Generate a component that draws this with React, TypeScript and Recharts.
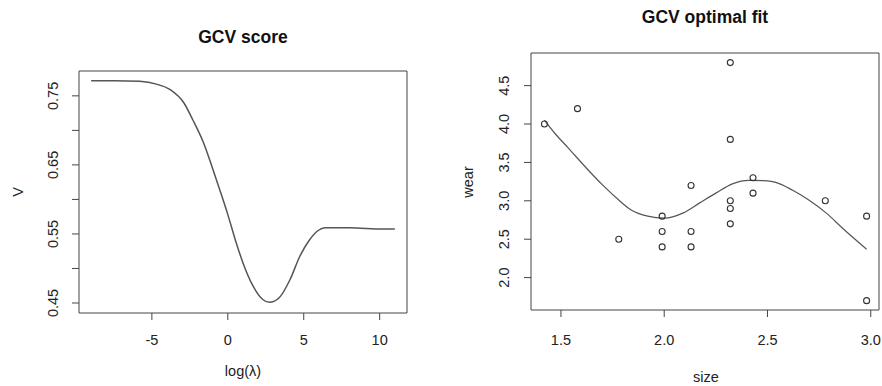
import React from 'react';
import { LineChart, ComposedChart, Line, Scatter, XAxis, YAxis, ReferenceArea } from 'recharts';

const FONT = '"Liberation Sans", Arial, Helvetica, sans-serif';

// GCV score against log(lambda)
const logLambda = [-9, -7.5, -5.8, -4.7, -3.8, -2.9, -2.3, -1.6, -1.05, -0.5, 0, 0.5, 1.0, 1.65, 2.3, 2.75, 3.4, 4.1, 4.75, 5.4, 5.95, 6.4, 8.0, 10.2, 11];
const gcvScore = [0.772, 0.772, 0.771, 0.767, 0.759, 0.740, 0.715, 0.682, 0.648, 0.612, 0.578, 0.541, 0.508, 0.475, 0.455, 0.451, 0.458, 0.484, 0.518, 0.542, 0.555, 0.559, 0.559, 0.557, 0.557];
const gcvXTicks = [-5, 0, 5, 10];
const gcvYTicks = [0.45, 0.5, 0.55, 0.6, 0.65, 0.7, 0.75];
const gcvYLabels = ['0.45', '', '0.55', '', '0.65', '', '0.75'];

// observed wear against size
const sizeObs = [1.42, 1.58, 1.78, 1.99, 1.99, 1.99, 2.13, 2.13, 2.13, 2.32, 2.32, 2.32, 2.32, 2.32, 2.43, 2.43, 2.78, 2.98, 2.98];
const wearObs = [4.0, 4.2, 2.5, 2.8, 2.6, 2.4, 3.2, 2.6, 2.4, 4.8, 3.8, 3.0, 2.9, 2.7, 3.3, 3.1, 3.0, 2.8, 1.7];

// GCV optimal smoothing fit
const fitSize = [1.42, 1.47, 1.535, 1.615, 1.70, 1.78, 1.84, 1.92, 2.00, 2.09, 2.17, 2.25, 2.33, 2.41, 2.50, 2.54, 2.62, 2.70, 2.785, 2.865, 2.98];
const fitWear = [4.05, 3.88, 3.69, 3.45, 3.21, 3.01, 2.88, 2.80, 2.775, 2.84, 2.97, 3.10, 3.22, 3.265, 3.26, 3.24, 3.14, 3.01, 2.84, 2.64, 2.37];
const fitXTicks = [1.5, 2.0, 2.5, 3.0];
const fitYTicks = [2.0, 2.5, 3.0, 3.5, 4.0, 4.5];

const gcvData = logLambda.map((x, i) => ({ x, v: gcvScore[i] }));
const obsData = sizeObs.map((s, i) => ({ size: s, wear: wearObs[i] }));
const fitData = fitSize.map((s, i) => ({ size: s, wear: fitWear[i] }));

const GCV_X: [number, number] = [-9.8, 11.8];
const GCV_Y: [number, number] = [0.4355, 0.786];
const FIT_X: [number, number] = [1.355, 3.04];
const FIT_Y: [number, number] = [1.578, 4.925];

const textStyle = { fontFamily: FONT, fontSize: 14.5, fill: '#222' };

const xTick = (fmt: (v: number) => string) => (props: any) => (
  <text x={props.x} y={345} textAnchor="middle" {...textStyle}>
    {fmt(props.payload.value)}
  </text>
);

// R draws y tick labels turned on their side
const yTick = (fmt: (v: number) => string, baseX: number) => (props: any) => {
  const { y, payload } = props;
  const label = fmt(payload.value);
  if (!label) return <g />;
  return (
    <text x={baseX} y={y} transform={`rotate(-90, ${baseX}, ${y})`} textAnchor="middle" {...textStyle}>
      {label}
    </text>
  );
};

function GcvScore() {
  return (
    <LineChart width={441} height={386} data={gcvData} margin={{ top: 71, right: 34, left: 19, bottom: 33 }}>
      <XAxis
        dataKey="x"
        type="number"
        domain={GCV_X}
        allowDataOverflow
        ticks={gcvXTicks}
        axisLine={false}
        tickSize={7}
        tickLine={{ stroke: '#444' }}
        height={40}
        tick={xTick((v) => String(v))}
        label={{
          content: () => (
            <text x={243} y={376} textAnchor="middle" {...textStyle}>
              log(λ)
            </text>
          ),
        }}
      />
      <YAxis
        type="number"
        domain={GCV_Y}
        allowDataOverflow
        ticks={gcvYTicks}
        axisLine={false}
        tickSize={7}
        tickLine={{ stroke: '#444' }}
        width={60}
        tick={yTick((v) => gcvYLabels[gcvYTicks.indexOf(v)] ?? '', 58.5)}
        label={{
          content: () => (
            <text x={22.5} y={192} transform="rotate(-90, 22.5, 192)" textAnchor="middle" {...textStyle}>
              V
            </text>
          ),
        }}
      />
      <ReferenceArea
        x1={GCV_X[0]}
        x2={GCV_X[1]}
        y1={GCV_Y[0]}
        y2={GCV_Y[1]}
        fill="none"
        fillOpacity={0}
        stroke="#444"
        strokeOpacity={1}
        ifOverflow="visible"
      />
      <Line type="monotone" dataKey="v" stroke="#555" strokeWidth={1.5} dot={false} isAnimationActive={false} />
      <text x={243} y={42.5} textAnchor="middle" fontFamily={FONT} fontSize={17.5} fontWeight="bold" fill="#111">
        GCV score
      </text>
    </LineChart>
  );
}

function GcvFit() {
  return (
    <ComposedChart width={441} height={386} margin={{ top: 53, right: 3, left: 30, bottom: 36 }}>
      <XAxis
        dataKey="size"
        type="number"
        domain={FIT_X}
        allowDataOverflow
        ticks={fitXTicks}
        axisLine={false}
        tickSize={7}
        tickLine={{ stroke: '#444' }}
        height={40}
        tick={xTick((v) => v.toFixed(1))}
        label={{
          content: () => (
            <text x={265} y={382} textAnchor="middle" {...textStyle}>
              size
            </text>
          ),
        }}
      />
      <YAxis
        type="number"
        domain={FIT_Y}
        allowDataOverflow
        ticks={fitYTicks}
        axisLine={false}
        tickSize={7}
        tickLine={{ stroke: '#444' }}
        width={60}
        tick={yTick((v) => v.toFixed(1), 68.5)}
        label={{
          content: () => (
            <text x={32} y={182} transform="rotate(-90, 32, 182)" textAnchor="middle" {...textStyle}>
              wear
            </text>
          ),
        }}
      />
      <ReferenceArea
        x1={FIT_X[0]}
        x2={FIT_X[1]}
        y1={FIT_Y[0]}
        y2={FIT_Y[1]}
        fill="none"
        fillOpacity={0}
        stroke="#444"
        strokeOpacity={1}
        ifOverflow="visible"
      />
      <Line data={fitData} type="monotone" dataKey="wear" stroke="#555" strokeWidth={1.2} dot={false} isAnimationActive={false} />
      <Scatter
        data={obsData}
        dataKey="wear"
        isAnimationActive={false}
        shape={(p: any) => <circle cx={p.cx} cy={p.cy} r={3} fill="none" stroke="#333" strokeWidth={1.1} />}
      />
      <text x={264} y={22.5} textAnchor="middle" fontFamily={FONT} fontSize={17.5} fontWeight="bold" fill="#111">
        GCV optimal fit
      </text>
    </ComposedChart>
  );
}

export default function App() {
  return (
    <div style={{ position: 'absolute', left: 0, top: 0, width: 882, height: 386, background: '#fff' }}>
      <div style={{ position: 'absolute', left: 0, top: 0 }}>
        <GcvScore />
      </div>
      <div style={{ position: 'absolute', left: 441, top: 0 }}>
        <GcvFit />
      </div>
    </div>
  );
}
